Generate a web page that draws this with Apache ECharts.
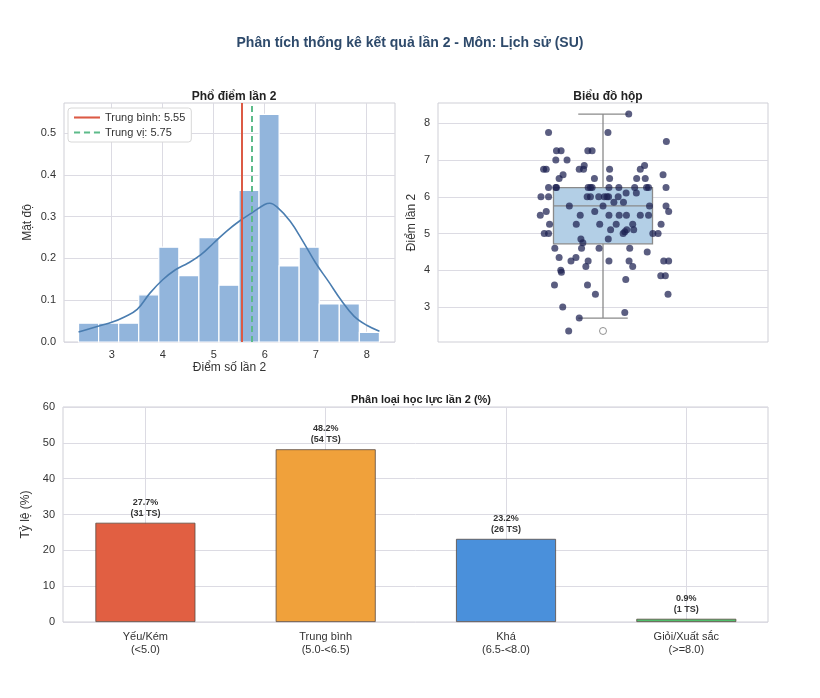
<!DOCTYPE html>
<html>
<head>
<meta charset="utf-8">
<script src="https://cdn.jsdelivr.net/npm/echarts@6/dist/echarts.min.js"></script>
<style>
  html, body { margin: 0; padding: 0; background: #fff; }
  #chart { width: 820px; height: 698px; }
</style>
</head>
<body>
<div id="chart"></div>
<script>
// ---- du lieu doc tu hinh ----
// histogram: 15 bins tu 2.35 den 8.25, mat do
var binStart = 2.35;
var binWidth = 0.3933;
var binDensity = [0.045, 0.045, 0.045, 0.113, 0.227, 0.159, 0.250, 0.136, 0.363, 0.545, 0.182, 0.227, 0.091, 0.091, 0.023];
// duong KDE
var kdeX = [2.35, 2.6, 2.8, 3.0, 3.25, 3.5, 3.75, 4.0, 4.25, 4.5, 4.75, 5.0, 5.25, 5.5, 5.75, 6.0, 6.1, 6.25, 6.5, 6.75, 7.0, 7.25, 7.5, 7.75, 8.0, 8.25];
var kdeY = [0.024, 0.033, 0.040, 0.047, 0.060, 0.078, 0.117, 0.149, 0.173, 0.189, 0.209, 0.237, 0.265, 0.289, 0.309, 0.329, 0.332, 0.322, 0.289, 0.241, 0.189, 0.145, 0.100, 0.062, 0.040, 0.026];
var histXTicks = [3, 4, 5, 6, 7, 8];
var histYTicks = [0, 0.1, 0.2, 0.3, 0.4, 0.5];
var meanScore = 5.55;
var medianScore = 5.75;

// box plot: [q1, trung vi, q3, rau duoi, rau tren]
var boxStats = [4.72, 5.75, 6.25, 2.7, 8.25];
var boxOutliers = [2.35];
var boxYTicks = [3, 4, 5, 6, 7, 8];
// cac diem strip: [do lech ngang, diem]
var stripPoints = [
  [0.078, 8.25], [-0.165, 7.75], [0.015, 7.75], [0.192, 7.5],
  [-0.141, 7.25], [-0.127, 7.25], [-0.046, 7.25], [-0.033, 7.25],
  [-0.143, 7.0], [-0.109, 7.0],
  [-0.180, 6.75], [-0.172, 6.75], [-0.072, 6.75], [-0.059, 6.75], [0.020, 6.75], [0.113, 6.75],
  [-0.057, 6.85], [0.126, 6.85],
  [-0.121, 6.6], [0.182, 6.6],
  [-0.133, 6.5], [-0.026, 6.5], [0.020, 6.5], [0.102, 6.5], [0.128, 6.5],
  [-0.165, 6.25], [-0.143, 6.25], [-0.141, 6.25], [-0.045, 6.25], [-0.038, 6.25], [-0.033, 6.25],
  [0.018, 6.25], [0.048, 6.25], [0.096, 6.25], [0.132, 6.25], [0.138, 6.25], [0.191, 6.25],
  [0.070, 6.1], [0.101, 6.1],
  [-0.188, 6.0], [-0.165, 6.0], [-0.048, 6.0], [-0.038, 6.0], [-0.013, 6.0], [0.004, 6.0],
  [0.012, 6.0], [0.017, 6.0], [0.046, 6.0],
  [0.033, 5.85], [0.062, 5.85],
  [-0.102, 5.75], [0.0, 5.75], [0.141, 5.75], [0.191, 5.75],
  [0.199, 5.6], [-0.172, 5.6], [-0.025, 5.6],
  [-0.190, 5.5], [-0.069, 5.5], [0.018, 5.5], [0.049, 5.5], [0.071, 5.5], [0.113, 5.5], [0.138, 5.5],
  [-0.162, 5.25], [-0.081, 5.25], [-0.010, 5.25], [0.040, 5.25], [0.090, 5.25], [0.176, 5.25],
  [0.023, 5.1], [0.072, 5.1], [0.093, 5.1], [0.066, 5.05],
  [-0.178, 5.0], [-0.165, 5.0], [0.061, 5.0], [0.151, 5.0], [0.167, 5.0],
  [-0.067, 4.85], [0.016, 4.85], [-0.061, 4.75],
  [-0.146, 4.6], [-0.065, 4.6], [-0.012, 4.6], [0.081, 4.6], [0.134, 4.5],
  [-0.133, 4.35], [-0.082, 4.35],
  [-0.097, 4.25], [-0.045, 4.25], [0.018, 4.25], [0.079, 4.25], [0.184, 4.25], [0.199, 4.25],
  [-0.052, 4.1], [0.090, 4.1],
  [-0.128, 4.0], [-0.126, 3.95],
  [0.175, 3.85], [0.189, 3.85], [0.069, 3.75],
  [-0.147, 3.6], [-0.047, 3.6],
  [-0.023, 3.35], [0.197, 3.35],
  [-0.122, 3.0], [0.066, 2.85], [-0.072, 2.7], [-0.104, 2.35]
];

// phan loai hoc luc
var levelNames = ['Yếu/Kém\n(<5.0)', 'Trung bình\n(5.0-<6.5)', 'Khá\n(6.5-<8.0)', 'Giỏi/Xuất sắc\n(>=8.0)'];
var levelPct = [27.7, 48.2, 23.2, 0.9];
var levelCount = [31, 54, 26, 1];
var levelColors = ['#e15f42', '#f0a13b', '#4a90db', '#4fbf6c'];

var myChart = echarts.init(document.getElementById('chart'));

var textColor = '#333';
var gridLineColor = '#dcdbe3';
var frameColor = '#cfcfd6';
var fontFamily = 'Liberation Sans, Arial, sans-serif';
var meanName = 'Trung bình: ' + meanScore.toFixed(2);
var medianName = 'Trung vị: ' + medianScore.toFixed(2);

var histData = [];
for (var i = 0; i < binDensity.length; i++) {
  histData.push([binStart + i * binWidth, binStart + (i + 1) * binWidth, binDensity[i]]);
}
var kdeData = [];
for (var k = 0; k < kdeX.length; k++) {
  kdeData.push([kdeX[k], kdeY[k]]);
}
var barData = [];
for (var b = 0; b < levelPct.length; b++) {
  barData.push({ value: [b, levelPct[b]], itemStyle: { color: levelColors[b] } });
}

var option = {
  backgroundColor: '#fff',
  textStyle: { fontFamily: fontFamily },
  animation: false,
  title: [
    { text: 'Phân tích thống kê kết quả lần 2 - Môn: Lịch sử (SU)', left: 'center', top: 31,
      textStyle: { fontSize: 14, fontWeight: 'bold', color: '#2e4a6b' } },
    { text: 'Phổ điểm lần 2', left: 229, top: 86, textAlign: 'center',
      textStyle: { fontSize: 12, fontWeight: 'bold', color: '#222' } },
    { text: 'Biểu đồ hộp', left: 603, top: 86, textAlign: 'center',
      textStyle: { fontSize: 12, fontWeight: 'bold', color: '#222' } },
    { text: 'Phân loại học lực lần 2 (%)', left: 416, top: 389, textAlign: 'center',
      textStyle: { fontSize: 11, fontWeight: 'bold', color: '#222' } }
  ],
  legend: {
    data: [
      { name: meanName, icon: 'path://M0,4h30v2.4h-30z' },
      { name: medianName, icon: 'path://M0,4h7v2.4h-7z M11.5,4h7v2.4h-7z M23,4h7v2.4h-7z' }
    ],
    orient: 'vertical',
    left: 68, top: 108,
    itemWidth: 26, itemHeight: 10, itemGap: 4,
    backgroundColor: '#fff', borderColor: '#d8d8d8', borderWidth: 1, borderRadius: 3,
    padding: [4, 6, 4, 6],
    textStyle: { fontSize: 11, color: textColor }
  },
  grid: [
    { left: 64, top: 103, width: 331, height: 239, show: true, borderColor: frameColor, borderWidth: 1 },
    { left: 438, top: 103, width: 330, height: 239, show: true, borderColor: frameColor, borderWidth: 1 },
    { left: 63, top: 407, width: 705, height: 215, show: true, borderColor: frameColor, borderWidth: 1 }
  ],
  xAxis: [
    { gridIndex: 0, type: 'value', min: 2.065, max: 8.555,
      name: 'Điểm số lần 2', nameLocation: 'middle', nameGap: 20,
      nameTextStyle: { fontSize: 12, color: textColor },
      axisLine: { show: false },
      axisTick: { show: false, customValues: histXTicks },
      axisLabel: { customValues: histXTicks, fontSize: 11, color: textColor, margin: 7 },
      splitLine: { show: true, lineStyle: { color: gridLineColor } } },
    { gridIndex: 1, type: 'value', min: -0.5, max: 0.5,
      axisLine: { show: false }, axisTick: { show: false }, axisLabel: { show: false },
      splitLine: { show: false } },
    { gridIndex: 2, type: 'value', min: -0.457, max: 3.453,
      axisLine: { show: false },
      axisTick: { show: false, customValues: [0, 1, 2, 3] },
      axisLabel: { customValues: [0, 1, 2, 3], fontSize: 11, color: textColor, margin: 8, lineHeight: 13,
        formatter: function (v) { return levelNames[Math.round(v)]; } },
      splitLine: { show: true, lineStyle: { color: gridLineColor } } }
  ],
  yAxis: [
    { gridIndex: 0, type: 'value', min: 0, max: 0.572,
      name: 'Mật độ', nameLocation: 'middle', nameGap: 30,
      nameTextStyle: { fontSize: 12, color: textColor },
      axisLine: { show: false },
      axisTick: { show: false, customValues: histYTicks },
      axisLabel: { customValues: histYTicks, fontSize: 11, color: textColor, margin: 8,
        formatter: function (v) { return v.toFixed(1); } },
      splitLine: { show: true, lineStyle: { color: gridLineColor } } },
    { gridIndex: 1, type: 'value', min: 2.05, max: 8.55,
      name: 'Điểm lần 2', nameLocation: 'middle', nameGap: 20,
      nameTextStyle: { fontSize: 12, color: textColor },
      axisLine: { show: false },
      axisTick: { show: false, customValues: boxYTicks },
      axisLabel: { customValues: boxYTicks, fontSize: 11, color: textColor, margin: 8 },
      splitLine: { show: true, lineStyle: { color: gridLineColor } } },
    { gridIndex: 2, type: 'value', min: 0, max: 60, interval: 10,
      name: 'Tỷ lệ (%)', nameLocation: 'middle', nameGap: 26,
      nameTextStyle: { fontSize: 12, color: textColor },
      axisLine: { show: false }, axisTick: { show: false },
      axisLabel: { fontSize: 11, color: textColor, margin: 8 },
      splitLine: { show: true, lineStyle: { color: gridLineColor } } }
  ],
  series: [
    {
      type: 'custom', xAxisIndex: 0, yAxisIndex: 0, z: 2,
      data: histData,
      encode: { x: [0, 1], y: 2 },
      renderItem: function (params, api) {
        var p0 = api.coord([api.value(0), api.value(2)]);
        var p1 = api.coord([api.value(1), 0]);
        return {
          type: 'rect',
          shape: { x: p0[0], y: p0[1], width: p1[0] - p0[0], height: p1[1] - p0[1] },
          style: { fill: '#92b5dc', stroke: '#fff', lineWidth: 1.2 }
        };
      }
    },
    {
      type: 'line', xAxisIndex: 0, yAxisIndex: 0, z: 3,
      data: kdeData, smooth: 0.4, symbol: 'none',
      lineStyle: { color: '#4a7db0', width: 1.6 }
    },
    {
      name: meanName,
      type: 'line', xAxisIndex: 0, yAxisIndex: 0, z: 4,
      data: [], symbol: 'none',
      itemStyle: { color: '#dc5a45' },
      lineStyle: { color: '#dc5a45', width: 2 },
      markLine: { symbol: 'none', silent: true, label: { show: false },
        lineStyle: { color: '#dc5a45', width: 2, type: 'solid' },
        data: [{ xAxis: meanScore }] }
    },
    {
      name: medianName,
      type: 'line', xAxisIndex: 0, yAxisIndex: 0, z: 4,
      data: [], symbol: 'none',
      itemStyle: { color: '#5dbb8a' },
      lineStyle: { color: '#5dbb8a', width: 2, type: [6, 4] },
      markLine: { symbol: 'none', silent: true, label: { show: false },
        lineStyle: { color: '#5dbb8a', width: 2, type: [6, 4] },
        data: [{ xAxis: medianScore }] }
    },
    {
      type: 'custom', xAxisIndex: 1, yAxisIndex: 1, z: 2,
      data: [boxStats],
      renderItem: function (params, api) {
        var q1 = api.value(0), med = api.value(1), q3 = api.value(2), lo = api.value(3), hi = api.value(4);
        var halfW = 0.15, capW = 0.075;
        var tl = api.coord([-halfW, q3]);
        var br = api.coord([halfW, q1]);
        var mL = api.coord([-halfW, med]);
        var mR = api.coord([halfW, med]);
        var cTop = api.coord([0, hi]);
        var cBot = api.coord([0, lo]);
        var capL = api.coord([-capW, 0])[0];
        var capR = api.coord([capW, 0])[0];
        var edge = { stroke: '#8a8a8a', lineWidth: 1.3 };
        return {
          type: 'group',
          children: [
            { type: 'line', shape: { x1: cTop[0], y1: cTop[1], x2: cTop[0], y2: tl[1] }, style: edge },
            { type: 'line', shape: { x1: cBot[0], y1: cBot[1], x2: cBot[0], y2: br[1] }, style: edge },
            { type: 'line', shape: { x1: capL, y1: cTop[1], x2: capR, y2: cTop[1] }, style: edge },
            { type: 'line', shape: { x1: capL, y1: cBot[1], x2: capR, y2: cBot[1] }, style: edge },
            { type: 'rect', shape: { x: tl[0], y: tl[1], width: br[0] - tl[0], height: br[1] - tl[1] },
              style: { fill: '#b3cfe6', stroke: '#8a8a8a', lineWidth: 1.3 } },
            { type: 'line', shape: { x1: mL[0], y1: mL[1], x2: mR[0], y2: mR[1] }, style: edge }
          ]
        };
      }
    },
    {
      type: 'scatter', xAxisIndex: 1, yAxisIndex: 1, z: 3,
      data: boxOutliers.map(function (v) { return [0, v]; }),
      symbol: 'circle', symbolSize: 7,
      itemStyle: { color: '#fff', borderColor: '#777', borderWidth: 1 }
    },
    {
      type: 'scatter', xAxisIndex: 1, yAxisIndex: 1, z: 4,
      data: stripPoints, symbolSize: 7,
      itemStyle: { color: '#1c2050', opacity: 0.72 }
    },
    {
      type: 'bar', xAxisIndex: 2, yAxisIndex: 2,
      data: barData, barWidth: 100,
      itemStyle: { borderColor: '#5a4a40', borderWidth: 0.8 },
      label: {
        show: true, position: 'top', distance: 4,
        fontSize: 9, fontWeight: 'bold', color: '#333', lineHeight: 11,
        formatter: function (p) {
          return levelPct[p.dataIndex].toFixed(1) + '%\n(' + levelCount[p.dataIndex] + ' TS)';
        }
      }
    }
  ]
};

myChart.setOption(option);
</script>
</body>
</html>
